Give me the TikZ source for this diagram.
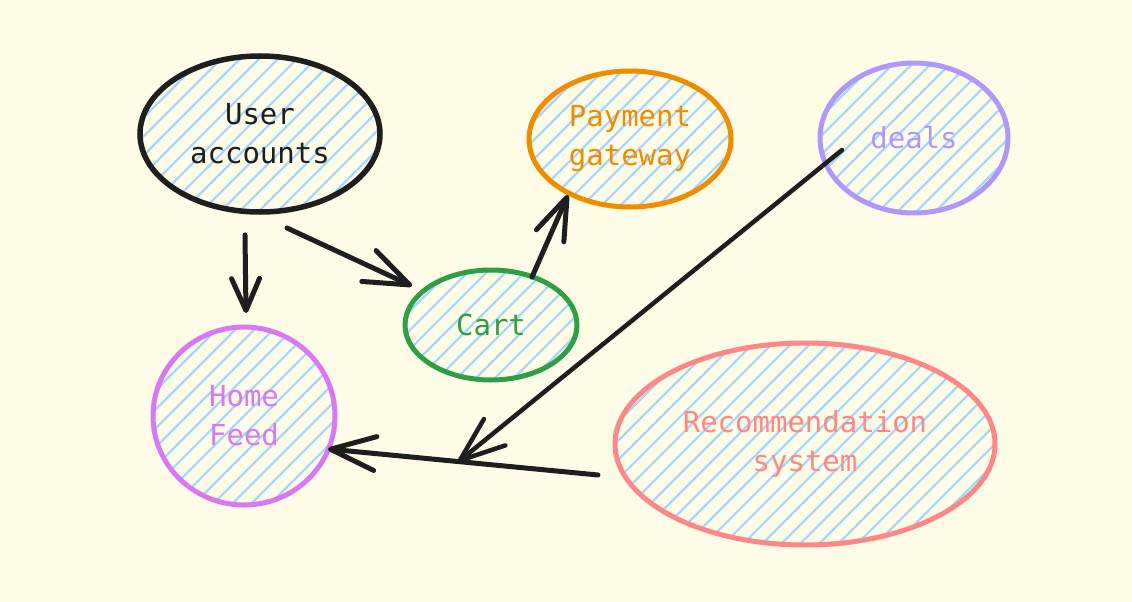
\documentclass[tikz,border=0pt]{standalone}
\usepackage{fontspec}
\newfontfamily\hand{DejaVu Sans Mono}
\usetikzlibrary{shapes.geometric,arrows.meta}
\definecolor{bgc}{HTML}{FFFCE8}
\definecolor{hatchc}{HTML}{A5D8FF}
\definecolor{inkc}{HTML}{1E1E1E}
\definecolor{orangec}{HTML}{F08C00}
\definecolor{purplec}{HTML}{B197FC}
\definecolor{greenc}{HTML}{2F9E44}
\definecolor{pinkc}{HTML}{DA77F2}
\definecolor{redc}{HTML}{FF8787}
\tikzset{
  hatched/.style={path picture={
    \foreach \i in {-18,...,18}{
      \draw[hatchc,line width=2.2pt]
        ([xshift=\i*19pt-320pt,yshift=-320pt]path picture bounding box.center) -- ++(640pt,640pt);
    }}},
  blob/.style={ellipse,inner sep=0pt,line width=5.5pt,hatched,align=center,
    font=\hand\fontsize{29}{39}\selectfont},
  conn/.style={inkc,line width=5pt,line cap=round,line join=round,
    -{Straight Barb[length=45pt,width=34pt,round]}},
}
\begin{document}
\begin{tikzpicture}[x=1pt,y=-1pt]
\fill[bgc] (0,0) rectangle (1132,602);
\useasboundingbox (0,0) rectangle (1132,602);

\node[blob,draw=inkc,text=inkc,minimum width=240pt,minimum height=156pt] (ua) at (260,134) {User\\accounts};
\node[blob,draw=orangec,text=orangec,line width=5pt,minimum width=202pt,minimum height=136pt] (pg) at (630,139) {Payment\\gateway};
\node[blob,draw=purplec,text=purplec,line width=5pt,minimum width=188pt,minimum height=150pt] (dl) at (914,138) {deals};
\node[blob,draw=greenc,text=greenc,line width=5pt,minimum width=172pt,minimum height=110pt] (ct) at (491,325) {Cart};
\node[blob,draw=pinkc,text=pinkc,line width=5pt,minimum width=182pt,minimum height=178pt] (hf) at (244,416) {Home\\Feed};
\node[blob,draw=redc,text=redc,line width=5pt,minimum width=380pt,minimum height=202pt] (rs) at (805,444) {Recommendation\\system};

\coordinate (ua-s) at (245,235);
\coordinate (hf-n) at (246,313);
\coordinate (ua-se) at (287,228);
\coordinate (ct-w) at (412,286);
\coordinate (ct-n) at (532,277);
\coordinate (pg-sw) at (568,195);
\coordinate (dl-w) at (842,150);
\coordinate (join) at (458,462);
\coordinate (rs-w) at (598,475);
\coordinate (hf-e) at (328,449);

\draw[conn,-{Straight Barb[length=32pt,width=28pt,round]}] (ua-s) -- (hf-n);
\draw[conn] (ua-se) -- (ct-w);
\draw[conn,-{Straight Barb[length=42pt,width=30pt,round]}] (ct-n) -- (pg-sw);
\draw[conn,line width=4.5pt] (dl-w) -- (join);
\draw[conn] (rs-w) -- (hf-e);
\end{tikzpicture}
\end{document}
